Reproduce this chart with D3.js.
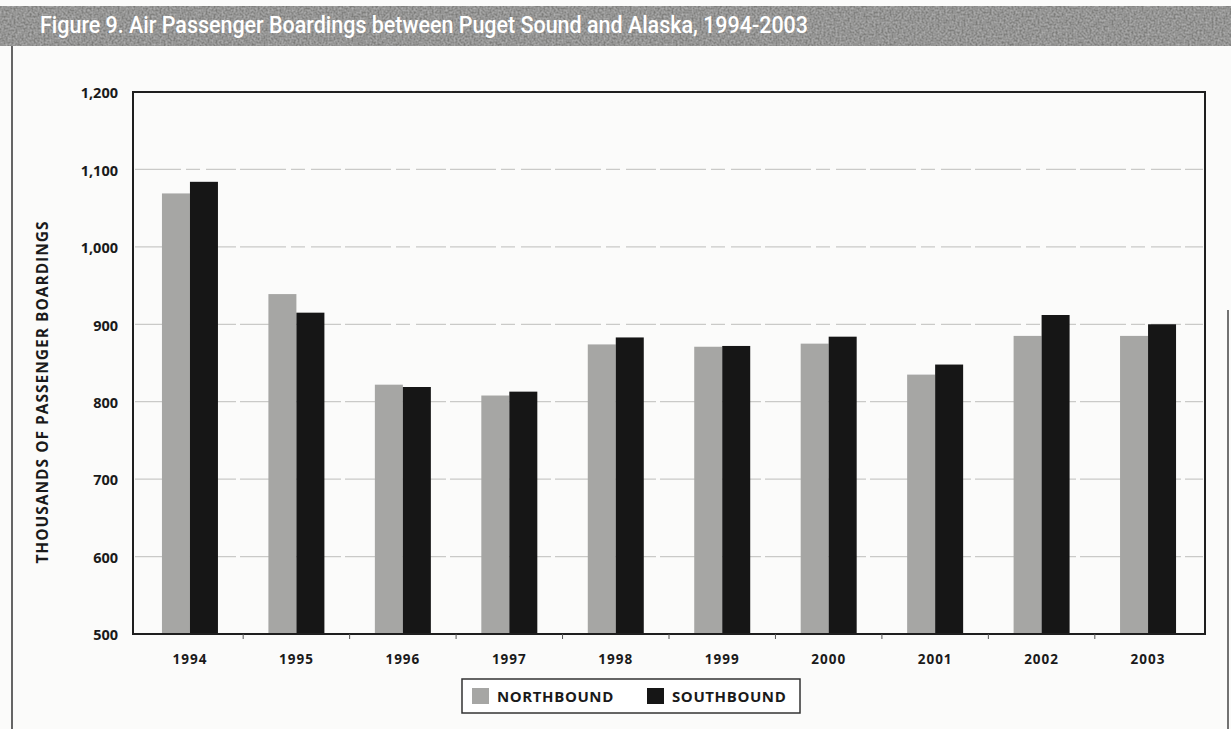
<!DOCTYPE html>
<html>
<head>
<meta charset="utf-8">
<script src="https://cdn.jsdelivr.net/npm/d3@7"></script>
<style>
  html, body { margin: 0; padding: 0; background: #fbfbfa; }
  svg { display: block; }
</style>
</head>
<body>
<svg id="chart" width="1231" height="729"></svg>
<script>
// Air passenger boardings (thousands) between Puget Sound and Alaska
const years = ["1994", "1995", "1996", "1997", "1998", "1999", "2000", "2001", "2002", "2003"];
const northbound = [1069, 939, 822, 808, 874, 871, 875, 835, 885, 885];
const southbound = [1084, 915, 819, 813, 883, 872, 884, 848, 912, 900];
const yTicks = [500, 600, 700, 800, 900, 1000, 1100, 1200];
const seriesNames = ["NORTHBOUND", "SOUTHBOUND"];
const seriesColors = ["#a6a6a4", "#161616"];

const titleText = "Figure 9. Air Passenger Boardings between Puget Sound and Alaska, 1994-2003";
const yTitle = "THOUSANDS OF PASSENGER BOARDINGS";

const svg = d3.select("#chart");
const W = 1231, H = 729;
const plot = { left: 133, right: 1205, top: 92, bottom: 634 };

const defs = svg.append("defs");

// printed-grain texture for the title band
const f = defs.append("filter").attr("id", "grain")
  .attr("x", 0).attr("y", 0).attr("width", 1).attr("height", 1);
f.append("feTurbulence").attr("type", "fractalNoise")
  .attr("baseFrequency", 0.5).attr("numOctaves", 2).attr("seed", 3).attr("result", "noise");
f.append("feColorMatrix").attr("in", "noise").attr("type", "matrix")
  .attr("values", "0 0 0 0 0.5  0 0 0 0 0.5  0 0 0 0 0.5  1.3 0 0 0 -0.3")
  .attr("result", "speck");
f.append("feComposite").attr("in", "speck").attr("in2", "SourceGraphic")
  .attr("operator", "in").attr("result", "sp");
f.append("feMerge").selectAll("feMergeNode")
  .data(["SourceGraphic", "sp"]).join("feMergeNode").attr("in", d => d);

// title band
svg.append("rect").attr("x", 0).attr("y", 6).attr("width", W).attr("height", 40)
  .attr("fill", "#7a7a78").attr("filter", "url(#grain)");
svg.append("text")
  .attr("x", 40).attr("y", 33)
  .attr("font-family", "'Liberation Sans Narrow', Roboto, sans-serif")
  .attr("font-size", 24)
  .attr("font-weight", 500)
  .attr("fill", "#ffffff")
  .attr("textLength", 768).attr("lengthAdjust", "spacingAndGlyphs")
  .text(titleText);

// page side rules
svg.append("line").attr("x1", 12).attr("x2", 12).attr("y1", 46).attr("y2", H)
  .attr("stroke", "#333").attr("stroke-width", 1.5);
svg.append("line").attr("x1", 1228).attr("x2", 1228).attr("y1", 310).attr("y2", H)
  .attr("stroke", "#444").attr("stroke-width", 1.5);

// scales
const x = d3.scaleBand().domain(years).range([plot.left, plot.right]).paddingOuter(0.035);
const y = d3.scaleLinear().domain([500, 1200]).range([plot.bottom, plot.top]);
const barW = 28;

// gridlines
svg.append("g").selectAll("line")
  .data(yTicks.filter(v => v > 500 && v < 1200))
  .join("line")
  .attr("x1", plot.left + 2).attr("x2", plot.right - 2)
  .attr("y1", d => y(d)).attr("y2", d => y(d))
  .attr("stroke", "#cacac8").attr("stroke-width", 1.3)
  .attr("stroke-dasharray", "46 5 14 6 30 4");

// bars
const groups = svg.append("g").selectAll("g")
  .data(years.map((yr, i) => ({ yr, vals: [northbound[i], southbound[i]] })))
  .join("g")
  .attr("transform", d => `translate(${x(d.yr) + x.bandwidth() / 2},0)`);
groups.selectAll("rect")
  .data(d => d.vals.map((v, k) => ({ v, k })))
  .join("rect")
  .attr("x", d => (d.k === 0 ? -barW : 0))
  .attr("width", barW)
  .attr("y", d => y(d.v))
  .attr("height", d => y(500) - y(d.v))
  .attr("fill", d => seriesColors[d.k]);

// plot frame
svg.append("rect")
  .attr("x", plot.left).attr("y", plot.top)
  .attr("width", plot.right - plot.left).attr("height", plot.bottom - plot.top)
  .attr("fill", "none").attr("stroke", "#1e1e1e").attr("stroke-width", 2);

// y axis labels
const labelFont = "'Open Sans', 'Noto Sans', sans-serif";
const yAxis = d3.axisLeft(y).tickValues(yTicks).tickSize(0).tickPadding(15)
  .tickFormat(d3.format(","));
const yg = svg.append("g").attr("transform", `translate(${plot.left},0)`).call(yAxis);
yg.select(".domain").remove();
yg.selectAll("text")
  .attr("font-family", labelFont).attr("font-weight", 700)
  .attr("font-size", 14.5).attr("fill", "#1a1a1a").attr("dy", "0.4em");

// x axis labels and small ticks between groups
const xAxis = d3.axisBottom(x).tickSize(0).tickPadding(20);
const xg = svg.append("g").attr("transform", `translate(0,${plot.bottom})`).call(xAxis);
xg.select(".domain").remove();
xg.selectAll("text")
  .attr("font-family", labelFont).attr("font-weight", 700)
  .attr("font-size", 13.5).attr("letter-spacing", "1px").attr("fill", "#1a1a1a");
svg.append("g").selectAll("line")
  .data(years.slice(1))
  .join("line")
  .attr("x1", d => x(d)).attr("x2", d => x(d))
  .attr("y1", plot.bottom).attr("y2", plot.bottom + 5)
  .attr("stroke", "#555").attr("stroke-width", 1);

// y axis title
svg.append("text")
  .attr("transform", `translate(48,${(plot.top + plot.bottom) / 2 + 29}) rotate(-90)`)
  .attr("text-anchor", "middle")
  .attr("font-family", labelFont).attr("font-weight", 700)
  .attr("font-size", 15.5).attr("letter-spacing", "1px").attr("fill", "#1a1a1a")
  .text(yTitle);

// legend
const legend = svg.append("g");
legend.append("rect").attr("x", 462).attr("y", 679).attr("width", 338).attr("height", 34)
  .attr("fill", "#fff").attr("stroke", "#333").attr("stroke-width", 1.5);
const legX = [472, 647];
const items = legend.selectAll("g").data(seriesNames).join("g")
  .attr("transform", (d, i) => `translate(${legX[i]},688)`);
items.append("rect").attr("width", 17).attr("height", 16)
  .attr("fill", (d, i) => seriesColors[i]);
items.append("text").attr("x", 25).attr("y", 13.5)
  .attr("font-family", labelFont).attr("font-weight", 700)
  .attr("font-size", 15).attr("letter-spacing", "0.6px").attr("fill", "#1a1a1a")
  .text(d => d);
</script>
</body>
</html>
